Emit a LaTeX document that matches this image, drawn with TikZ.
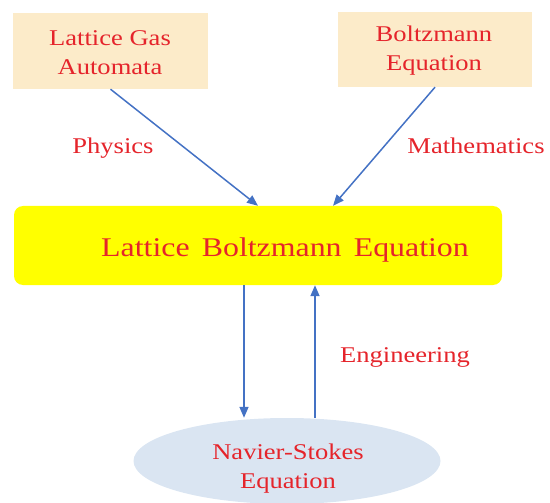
\documentclass[tikz,border=0pt]{standalone}
\usepackage{fontspec}
\setmainfont{Liberation Serif}[FakeStretch=1.18]
\usetikzlibrary{shapes.geometric,arrows.meta,calc}
\definecolor{beige}{HTML}{FCEBC9}
\definecolor{lbeyellow}{HTML}{FFFF00}
\definecolor{nsblue}{HTML}{DAE5F2}
\definecolor{txtred}{HTML}{E5242B}
\definecolor{arrblue}{HTML}{4472C4}
\begin{document}
\begin{tikzpicture}[x=1pt,y=-1pt,
  srcbox/.style={rectangle,fill=beige,minimum width=195pt,minimum height=76pt,inner sep=0pt},
  mainbox/.style={rectangle,rounded corners=9pt,fill=lbeyellow,minimum width=488pt,minimum height=79pt,
     inner sep=0pt},
  nsell/.style={ellipse,fill=nsblue,minimum width=307pt,minimum height=86pt,inner sep=0pt},
  lab/.style={text=txtred,inner sep=0pt,align=center,font=\fontsize{22.5}{29}\selectfont},
  bigtxt/.style={text=txtred,inner sep=0pt,anchor=base,font=\fontsize{27}{32}\selectfont},
  arr/.style={draw=arrblue,line width=1.5pt,-{Triangle[length=11pt,width=9pt]}}]
\useasboundingbox (0,0) rectangle (550,503);
\node[srcbox] (lga) at (110.5,51) {};
\node[srcbox,minimum width=194pt,minimum height=75pt] (bz) at (435,49.5) {};
\node[mainbox] (lbe) at (258,245.5) {};
\node[nsell] (ns) at (287,461) {};
\node[lab] (lgatxt) at (110,53) {Lattice Gas\\Automata};
\node[lab] (bztxt) at (434,51) {Boltzmann\\Equation};
\node[bigtxt] (lbetxt) at (285,257) {Lattice\hspace{0.45em}Boltzmann\hspace{0.45em}Equation};
\node[lab] (nstxt) at (288,469) {Navier-Stokes\\Equation};
\node[lab] (phys) at (113,148) {Physics};
\node[lab] (math) at (476,146) {Mathematics};
\node[lab] (eng) at (405,357) {Engineering};
\draw[arr] (lga.south) -- (lbe.north);
\draw[arr] (bz.south) -- ($(lbe.north)+(75,0)$);
\draw[arr] ([xshift=-14pt]lbe.south) -- ([xshift=-14pt]lbe.south |- ns.north);
\draw[arr] ([xshift=57pt]lbe.south |- ns.north) -- ([xshift=57pt]lbe.south);
\end{tikzpicture}
\end{document}
